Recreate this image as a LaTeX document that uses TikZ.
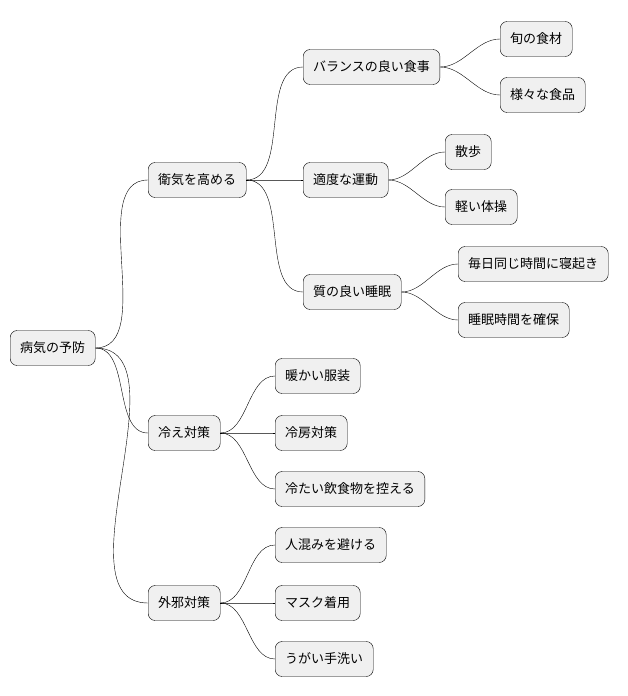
\documentclass[tikz,border=0pt]{standalone}
\usepackage{fontspec}
\setmainfont{Noto Sans CJK JP}
\tikzset{
	topic/.style={draw, rectangle, rounded corners=7pt, fill=black!6, anchor=west,
		inner xsep=10pt, minimum height=35pt, font=\fontsize{13}{15}\selectfont},
	branch/.style={draw, thin, out=0, in=180, looseness=0.9},
}
\begin{document}
\begin{tikzpicture}[x=1pt, y=-1pt]
	\useasboundingbox (0,0) rectangle (628,696);
	
	\node (root) [topic] at (10,348) {病気の予防};
	
	\node (wei) [topic] at (148,180) {衛気を高める};
	\node (hie) [topic] at (148,433) {冷え対策};
	\node (gai) [topic] at (148,603) {外邪対策};
	
	\node (meal) [topic] at (303,67) {バランスの良い食事};
	\node (move) [topic] at (303,180) {適度な運動};
	\node (sleep) [topic] at (303,292) {質の良い睡眠};
	
	\node (shun) [topic] at (500,39) {旬の食材};
	\node (vari) [topic] at (500,95) {様々な食品};
	\node (walk) [topic] at (445,152) {散歩};
	\node (gym) [topic] at (445,207) {軽い体操};
	\node (daily) [topic] at (458,264) {毎日同じ時間に寝起き};
	\node (hours) [topic] at (458,320) {睡眠時間を確保};
	
	\node (warm) [topic] at (275,376) {暖かい服装};
	\node (cool) [topic] at (275,433) {冷房対策};
	\node (cold) [topic] at (275,489) {冷たい飲食物を控える};
	
	\node (crowd) [topic] at (275,545) {人混みを避ける};
	\node (mask) [topic] at (275,603) {マスク着用};
	\node (wash) [topic] at (275,659) {うがい手洗い};
	
	\foreach \p/\c in {root/wei, root/hie, root/gai,
		wei/meal, wei/move, wei/sleep,
		meal/shun, meal/vari, move/walk, move/gym, sleep/daily, sleep/hours,
		hie/warm, hie/cool, hie/cold,
		gai/crowd, gai/mask, gai/wash}
		\draw (\p.east) to[branch] (\c.west);
\end{tikzpicture}
\end{document}
